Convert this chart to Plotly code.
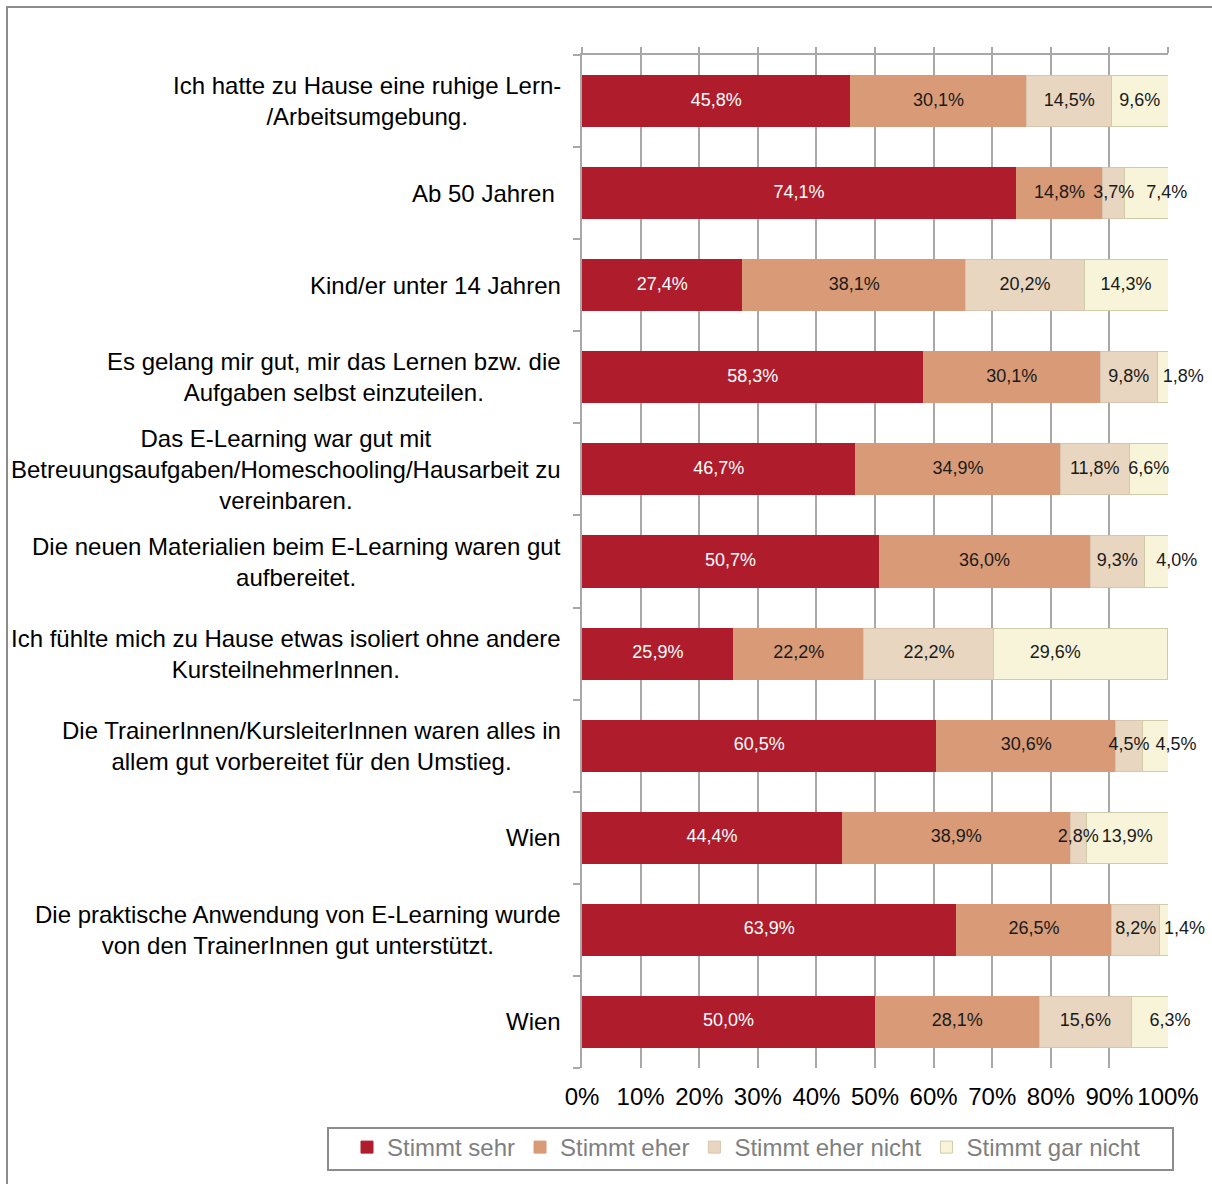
import plotly.graph_objects as go

categories = [
    "Ich hatte zu Hause eine ruhige Lern-<br>/Arbeitsumgebung.",
    "Ab 50 Jahren\u00a0",
    "Kind/er unter 14 Jahren",
    "Es gelang mir gut, mir das Lernen bzw. die<br>Aufgaben selbst einzuteilen.",
    "Das E-Learning war gut mit<br>Betreuungsaufgaben/Homeschooling/Hausarbeit zu<br>vereinbaren.",
    "Die neuen Materialien beim E-Learning waren gut<br>aufbereitet.",
    "Ich fühlte mich zu Hause etwas isoliert ohne andere<br>KursteilnehmerInnen.",
    "Die TrainerInnen/KursleiterInnen waren alles in<br>allem gut vorbereitet für den Umstieg.",
    "Wien",
    "Die praktische Anwendung von E-Learning wurde<br>von den TrainerInnen gut unterstützt.",
    "Wien",
]

series_names = ["Stimmt sehr", "Stimmt eher", "Stimmt eher nicht", "Stimmt gar nicht"]
stimmt_sehr = [45.8, 74.1, 27.4, 58.3, 46.7, 50.7, 25.9, 60.5, 44.4, 63.9, 50.0]
stimmt_eher = [30.1, 14.8, 38.1, 30.1, 34.9, 36.0, 22.2, 30.6, 38.9, 26.5, 28.1]
stimmt_eher_nicht = [14.5, 3.7, 20.2, 9.8, 11.8, 9.3, 22.2, 4.5, 2.8, 8.2, 15.6]
stimmt_gar_nicht = [9.6, 7.4, 14.3, 1.8, 6.6, 4.0, 29.6, 4.5, 13.9, 1.4, 6.3]

x_tick_values = [0, 10, 20, 30, 40, 50, 60, 70, 80, 90, 100]
x_tick_labels = ["0%", "10%", "20%", "30%", "40%", "50%", "60%", "70%", "80%", "90%", "100%"]

colors = ["#AF1D2D", "#D89A77", "#E9D6C0", "#F7F4DA"]
edge_colors = ["#AF1D2D", "#D89A77", "#D9C4AD", "#CFCCAA"]
text_colors = ["#FFFFFF", "#1A1A1A", "#1A1A1A", "#1A1A1A"]
# label placement of the last segment (small ones pushed to the right)
gar_nicht_pos = ["middle center", "middle right", "middle center", "middle right",
                 "middle center", "middle right", "middle left", "middle right",
                 "middle center", "middle right", "middle right"]

FONT = "Liberation Sans, Arial, sans-serif"
GRID = "#A8A8A8"
BOX = "#8C8C8C"

ypos = list(range(len(categories)))


def fmt(v):
    return f"{v:.1f}".replace(".", ",") + "%"


fig = go.Figure()
all_series = [stimmt_sehr, stimmt_eher, stimmt_eher_nicht, stimmt_gar_nicht]
for i, (name, vals) in enumerate(zip(series_names, all_series)):
    fig.add_trace(go.Bar(
        name=name,
        y=ypos,
        x=vals,
        orientation="h",
        width=0.555,
        marker=dict(color=colors[i], line=dict(color=edge_colors[i], width=1)),
        hoverinfo="skip",
    ))

# data labels drawn on top of all bars, at the segment centres
starts = [0.0] * len(categories)
for i, vals in enumerate(all_series):
    centers = [s + v / 2 for s, v in zip(starts, vals)]
    fig.add_trace(go.Scatter(
        x=centers, y=ypos, mode="text",
        text=[fmt(v) for v in vals],
        textposition=gar_nicht_pos if i == 3 else "middle center",
        textfont=dict(family=FONT, size=18, color=text_colors[i]),
        showlegend=False, hoverinfo="skip", cliponaxis=False,
    ))
    starts = [s + v for s, v in zip(starts, vals)]

# empty trace to activate the top axis line with its tick marks
fig.add_trace(go.Scatter(x=[], y=[], xaxis="x2", showlegend=False, hoverinfo="skip"))

# category labels: centered lines, block right-aligned next to the axis
for yi, lab in zip(ypos, categories):
    fig.add_annotation(
        x=0, xref="paper", y=yi, yref="y",
        text=lab, showarrow=False, xanchor="right", yanchor="middle",
        align="center", xshift=-19,
        font=dict(family=FONT, size=24, color="#000000"),
    )

boundaries = [i - 0.5 for i in range(len(categories) + 1)]

fig.update_layout(
    width=1212, height=1184,
    margin=dict(l=582, r=44, t=55, b=116, autoexpand=False),
    paper_bgcolor="white", plot_bgcolor="white",
    barmode="stack",
    font=dict(family=FONT, size=24, color="#000000"),
    xaxis=dict(
        range=[0, 100], tickvals=x_tick_values, ticktext=x_tick_labels,
        showgrid=True, gridcolor=GRID, gridwidth=1.8,
        zeroline=False, showline=False, ticks="",
        ticklabelstandoff=12,
        tickfont=dict(family=FONT, size=24, color="#000000"),
        fixedrange=True,
    ),
    xaxis2=dict(
        overlaying="x", side="top", range=[0, 100], tickvals=x_tick_values,
        showticklabels=False, showgrid=False, zeroline=False,
        showline=True, linecolor=GRID, linewidth=2,
        ticks="outside", ticklen=6, tickcolor=GRID, tickwidth=2,
        fixedrange=True,
    ),
    yaxis=dict(
        range=[len(categories) - 0.5, -0.5],
        tickvals=[], showticklabels=False, ticks="",
        showgrid=False, zeroline=False,
        showline=True, linecolor=GRID, linewidth=2,
        minor=dict(tickvals=boundaries, ticks="outside", ticklen=7,
                   tickcolor=GRID, tickwidth=2, showgrid=False),
        fixedrange=True,
    ),
    legend=dict(
        orientation="h",
        x=(347 - 582) / 586, xanchor="left",
        y=-(1125 - 1068) / 1013, yanchor="top",
        font=dict(family=FONT, size=24, color="#7F7F7F"),
        borderwidth=0, bgcolor="rgba(0,0,0,0)",
        itemwidth=30, traceorder="normal",
    ),
    showlegend=True,
)

# outer chart border
fig.add_shape(type="rect", xref="paper", yref="paper",
              x0=(7 - 582) / 586, x1=1.2, y0=-0.3, y1=1 + (55 - 7) / 1013,
              line=dict(color=BOX, width=2), fillcolor="rgba(0,0,0,0)",
              layer="below")
# legend frame
fig.add_shape(type="rect", xref="paper", yref="paper",
              x0=(328 - 582) / 586, x1=(1173 - 582) / 586,
              y0=-(1170 - 1068) / 1013, y1=-(1128 - 1068) / 1013,
              line=dict(color=BOX, width=2), fillcolor="white",
              layer="below")
# left extension of the top axis line (tick at the top boundary)
fig.add_shape(type="line", xref="paper", yref="paper",
              x0=-7 / 586, x1=0, y0=1, y1=1,
              line=dict(color=GRID, width=2))

fig.write_html("out.html", config={"displayModeBar": False},
               post_script="document.body.style.margin='0px';")
